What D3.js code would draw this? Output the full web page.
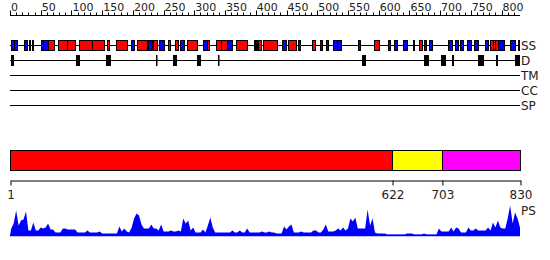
<!DOCTYPE html>
<html><head><meta charset="utf-8">
<script src="https://cdn.jsdelivr.net/npm/d3@7"></script>
<style>
html,body{margin:0;padding:0;background:#fff;}
svg{display:block;}
text{font-family:"DejaVu Sans",Verdana,sans-serif;fill:#222;}
</style></head>
<body><svg id="chart" width="550" height="260"></svg>
<script>
const seqLength = 830;
const rulerLabels = [0,50,100,150,200,250,300,350,400,450,500,550,600,650,700,750,800];
const trackNames = ["SS","D","TM","CC","SP"];
// secondary structure elements: [start, end, type] H = helix (red), E = strand (blue)
const ssStart = [2,7,23,31,36,50,54,62,78,93,112,133,158,172,197,207,225,233,243,257,268,277,288,314,321,335,343,353,368,397,400,404,412,443,452,469,491,504,514,526,532,566,592,615,625,640,656,666,674,682,713,724,732,744,755,773,781,786,789,794,814,827];
const ssEnd   = [7,11,28,32,37,54,62,72,93,106,133,153,161,190,202,223,231,239,251,260,273,283,304,321,324,343,353,361,386,399,402,409,435,449,465,472,496,508,518,532,539,570,601,618,630,646,658,671,677,687,719,729,737,750,762,778,786,789,794,804,822,829];
const ssType  = ["E","E","E","E","E","E","E","H","H","H","H","H","H","H","E","H","E","H","E","H","H","E","H","E","H","H","H","E","H","E","E","H","H","E","H","E","H","E","E","E","E","E","H","E","E","E","E","H","E","E","E","E","E","E","E","E","H","H","H","E","E","E"];
// disordered regions
const disStart = [1,107,156,237,265,304,338,573,674,701,720,761,791,822];
const disEnd   = [7,114,164,239,272,311,340,579,682,710,722,771,794,830];
// domain blocks
const domStart = [1,622,703];
const domEnd   = [622,703,830];
const domColor = ["#ff0000","#ffff00","#ff00ff"];
const domTicks = [1,622,703,830];
// PS profile, one value per 4-residue window
const psValues = [
7,12,25,10,15,16,24,5,5,13,
5,5,8,7,8,12,6,6,3,3,
3,7,7,6,6,6,6,3,3,3,
3,5,3,3,3,3,4,2,2,2,
2,2,2,2,9,4,7,4,3,8,
17,22,20,11,7,7,7,11,7,7,
5,11,4,4,4,5,4,4,5,4,
17,12,15,5,8,3,3,3,6,3,
10,18,8,3,3,3,3,3,3,3,
5,3,3,5,3,3,7,3,3,3,
3,3,4,3,3,4,3,3,2,2,
2,9,6,9,11,3,3,3,4,3,
3,3,3,5,5,3,3,6,11,4,
4,4,5,7,5,8,5,7,17,14,
18,7,7,7,7,26,10,17,3,2,
2,2,2,1,1,1,1,1,1,1,
1,2,2,2,1,1,1,1,2,1,
1,1,1,1,7,4,4,4,4,8,
4,8,7,3,3,3,8,5,5,7,
5,5,5,5,8,5,13,8,15,8,
7,7,17,30,12,23,17,8];
const psWindow = 4;

const svg = d3.select("#chart");
const x = d3.scaleLinear().domain([0, seqLength]).range([10, 520]);

// top ruler
const ruler = svg.append("g").attr("transform","translate(0,15.5)");
ruler.append("line").attr("x1",x(0)).attr("x2",x(seqLength)).attr("stroke","#000");
const minor = d3.range(0, seqLength, 10);
ruler.selectAll("line.minor").data(minor).join("line").attr("class","minor")
  .attr("x1",d=>Math.round(x(d))+0.5).attr("x2",d=>Math.round(x(d))+0.5)
  .attr("y1",-3).attr("y2",0).attr("stroke","#000");
ruler.selectAll("line.major").data(rulerLabels).join("line").attr("class","major")
  .attr("x1",d=>Math.round(x(d))+0.5).attr("x2",d=>Math.round(x(d))+0.5)
  .attr("y1",-5).attr("y2",0).attr("stroke","#000");
ruler.selectAll("text").data(rulerLabels).join("text")
  .attr("x",d=>x(d)+1).attr("y",-5).attr("font-size","11px").text(d=>d);

// tracks
const trackY = {SS:45.5, D:60.5, TM:75.5, CC:90.5, SP:105.5};
trackNames.forEach(n=>{
  svg.append("line").attr("x1",x(0)).attr("x2",x(seqLength))
    .attr("y1",trackY[n]).attr("y2",trackY[n]).attr("stroke","#000");
  svg.append("text").attr("x",521).attr("y",trackY[n]).attr("dy","0.36em")
    .attr("font-size","12px").text(n);
});
const ss = ssStart.map((s,i)=>({s, e:ssEnd[i], t:ssType[i]}));
svg.selectAll("rect.ss").data(ss).join("rect").attr("class","ss")
  .attr("x",d=>Math.round(x(d.s))+0.5).attr("y",40.5)
  .attr("width",d=>Math.max(1,Math.round(x(d.e))-Math.round(x(d.s))))
  .attr("height",10)
  .attr("fill",d=>d.t==="H"?"#ff0000":"#0000ff").attr("stroke","#000");
const dis = disStart.map((s,i)=>({s, e:disEnd[i]}));
svg.selectAll("rect.dis").data(dis).join("rect").attr("class","dis")
  .attr("x",d=>Math.round(x(d.s))).attr("y",55)
  .attr("width",d=>Math.max(1.5,Math.round(x(d.e))-Math.round(x(d.s))))
  .attr("height",11).attr("fill","#000");

// domain bar
const doms = domStart.map((s,i)=>({s, e:domEnd[i], c:domColor[i]}));
svg.selectAll("rect.dom").data(doms).join("rect").attr("class","dom")
  .attr("x",d=>Math.round(x(d.s===1?0:d.s))+0.5).attr("y",150.5)
  .attr("width",d=>Math.round(x(d.e))-Math.round(x(d.s===1?0:d.s)))
  .attr("height",20).attr("fill",d=>d.c).attr("stroke","#000");

// bottom axis
const xb = d3.scaleLinear().domain([1, seqLength]).range([10.5, 520.5]);
const ax = svg.append("g").attr("transform","translate(0,180.5)")
  .call(d3.axisBottom(xb).tickValues(domTicks).tickSize(5).tickSizeOuter(0).tickFormat(d=>d));
ax.select(".domain").attr("stroke","#000");
ax.selectAll(".tick line").attr("stroke","#000");
ax.selectAll(".tick text").attr("font-family","DejaVu Sans, sans-serif").attr("font-size","12px").attr("fill","#222").attr("dy","0.9em");

// PS profile
const yps = d3.scaleLinear().domain([0, 30]).range([235.5, 205.5]);
const pts = psValues.map((v,i)=>({p: Math.min(seqLength, i*psWindow + psWindow/2), v}));
const area = d3.area().x(d=>x(d.p)).y0(yps(0)).y1(d=>yps(d.v));
const full = [{p:0,v:0}].concat(pts, [{p:seqLength, v:0}]);
svg.append("path").datum(full).attr("d",area).attr("fill","#0000ff");
svg.append("line").attr("x1",x(0)).attr("x2",x(seqLength)).attr("y1",235.5).attr("y2",235.5).attr("stroke","#0000ff").attr("stroke-width",1.5);
svg.append("text").attr("x",521).attr("y",211).attr("dy","0.36em").attr("font-size","12px").text("PS");
</script></body></html>
